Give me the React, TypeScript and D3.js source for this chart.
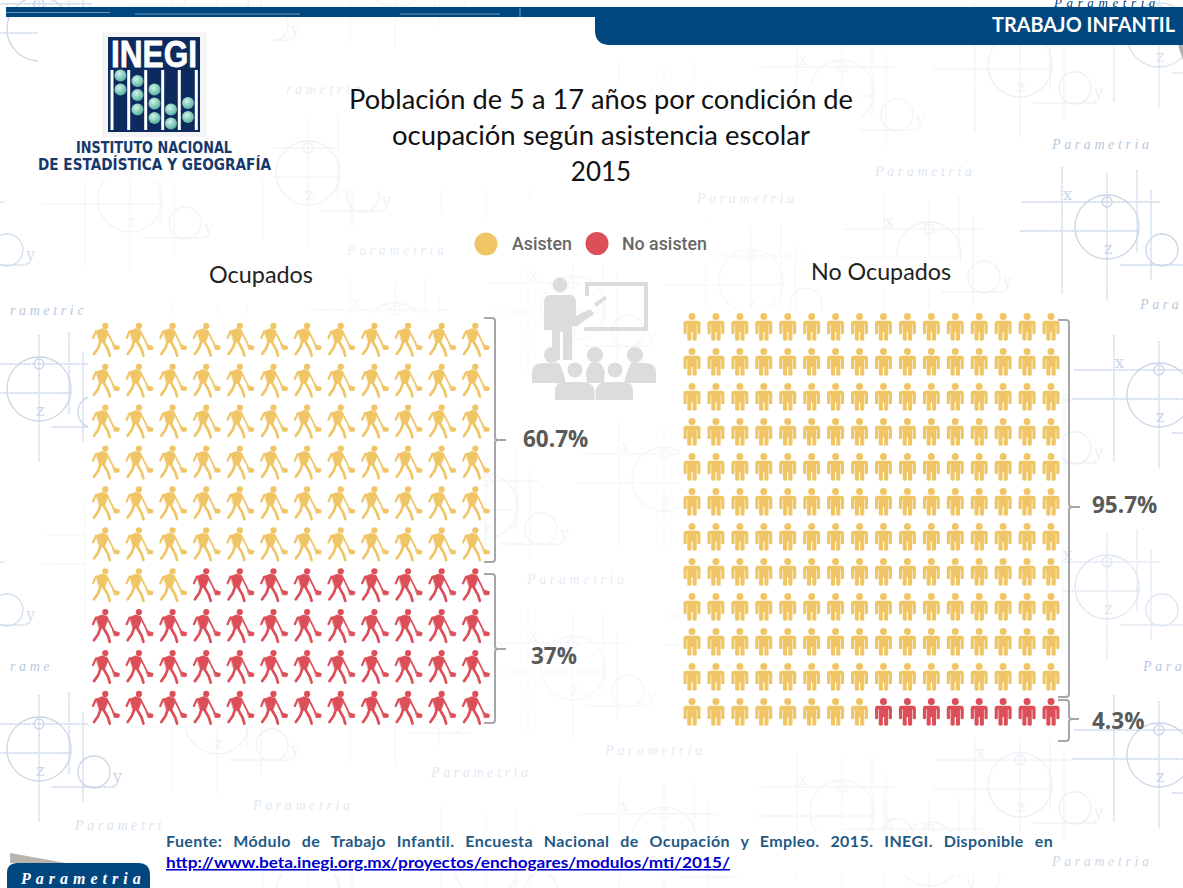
import React from "react";
import * as d3 from "d3";

// ---------- data ----------
const leftSeriesCounts = [75, 45]; // Asisten, No asisten (icons in the Ocupados pictogram)
const rightSeriesCounts = [184, 8]; // Asisten, No asisten (icons in the No Ocupados pictogram)
const leftCols = 12;
const rightCols = 16;
const seriesNames = ["Asisten", "No asisten"];
const seriesColors = ["#f0c566", "#dc4f58"];
const titleLines = ["Población de 5 a 17 años por condición de", "ocupación según asistencia escolar", "2015"];
const percentLabels: [string, number, number][] = [
  ["60.7%", 523, 447], ["37%", 531, 664], ["95.7%", 1092, 513], ["4.3%", 1092, 729],
];
// watermark words: text, x, baseline, strength
const watermarkWords: [string, number, number, number][] = [
  ["rametria", 286, 94, 0.35], ["Parametria", 1052, 149, 1], ["Parametria", 875, 176, 0.45], ["Parametria", 697, 203, 0.35],
  ["Parametria", 347, 255, 0.35], ["rametric", 10, 315, 1], ["Para", 1140, 309, 1], ["Parametria", 527, 584, 0.35],
  ["rame", 10, 671, 1], ["Para", 1143, 671, 1], ["Parametria", 605, 755, 0.35], ["Parametria", 431, 777, 0.4],
  ["Parametria", 253, 810, 0.4], ["Parametri", 75, 830, 0.5], ["Parametria", 1052, 866, 0.7],
];
// watermark graph motifs: centre x, centre y, strength
const watermarkGraphs: [number, number, number][] = [
  [1107, 227, 1], [929, 254, 0.3], [39, 389, 1], [1159, 395, 1], [39, 749, 1], [1159, 755, 1], [39, 29, 1], [1159, 35, 0.7],
  [217, 362, 0.2], [217, 722, 0.3], [395, 335, 0.2], [395, 695, 0.2], [573, 308, 0.2], [573, 668, 0.2],
  [751, 281, 0.2], [751, 641, 0.2], [929, 614, 0.2], [1107, 587, 0.6], [1107, -133, 0.6], [929, 854, 0.25],
  [217, 2, 0.3], [395, -25, 0.2], [1020, 65, 0.35], [842, 92, 0.25], [664, 119, 0.2], [486, 146, 0.2],
  [308, 173, 0.3], [130, 200, 0.25], [-48, 227, 0.8], [1020, 425, 0.35], [842, 452, 0.2], [664, 479, 0.2], [486, 506, 0.25],
  [308, 533, 0.2], [130, 560, 0.2], [-48, 587, 0.8], [1020, 785, 0.35], [842, 812, 0.25], [664, 839, 0.25], [486, 866, 0.25],
  [308, 893, 0.3],
];
const beadGroups: [number, number[]][] = [
  [120.5, [75.5, 89.5]],
  [137.5, [81, 95, 109.5]],
  [154.5, [89.5, 103.5, 118]],
  [171, [109.5, 123.5]],
  [188, [103, 117]],
];
const whitePanels: [number, number, number, number][] = [
  [38, 17, 235, 163],
  [340, 85, 520, 105],
  [470, 225, 245, 38],
  [200, 260, 120, 30],
  [88, 316, 395, 410],
  [680, 310, 382, 428],
  [800, 258, 160, 30],
  [160, 832, 900, 42],
];
const motifLetters: [string, number, number][] = [["x", -44, -27], ["z", -3, 27], ["y", 74, 33]];

// ---------- layout scales ----------
const leftX = d3.scaleLinear().domain([0, leftCols - 1]).range([106, 476]);
const leftY = d3.scaleLinear().domain([0, 9]).range([340, 708]);
const rightX = d3.scaleLinear().domain([0, rightCols - 1]).range([692, 1051]);
const rightY = d3.scaleLinear().domain([0, 11]).range([327, 712]);

const makeCells = (counts: number[], cols: number) =>
  d3.range(d3.sum(counts)).map((i) => ({
    i,
    col: i % cols,
    row: Math.floor(i / cols),
    series: i < counts[0] ? 0 : 1,
  }));

// a motif letter is only drawn when it lies fully on the page and is not under a white panel
const letterVisible = (x: number, y: number) =>
  x >= 1 && x <= 1170 && y >= 30 && y <= 880 &&
  !whitePanels.some(([px, py, pw, ph]) => x + 12 > px && x < px + pw && y > py && y - 14 < py + ph) &&
  !percentLabels.some(([, lx, ly]) => x + 12 > lx && x < lx + 70 && y > ly - 20 && y - 14 < ly);

// ---------- icon pieces ----------
function Worker({ x, y, color }: { x: number; y: number; color: string }) {
  return (
    <g transform={`translate(${x - 14},${y - 17})`} fill={color} stroke={color} strokeLinecap="round" strokeLinejoin="round">
      <circle cx={13.3} cy={2.9} r={3.1} stroke="none" />
      <path d="M4 8 L10 5.6 L14.5 7 L15.5 12 L12.5 19.5 L7.5 19.5 Z" strokeWidth={0.5} />
      <path d="M4 8.3 L1 15" fill="none" strokeWidth={2.2} />
      <path d="M14.5 7.5 L17 12.5 L21.5 21.5" fill="none" strokeWidth={1.7} />
      <path d="M21 21.5 L27.5 23.5 L26.8 26.5 L22.5 26.5 Z" strokeWidth={0.8} />
      <path d="M8.2 19.5 L6.2 25 L2 31" fill="none" strokeWidth={2.7} />
      <path d="M12 19.5 L16 26.5 L17.8 32.6" fill="none" strokeWidth={2.7} />
    </g>
  );
}

function Person({ x, y, color }: { x: number; y: number; color: string }) {
  return (
    <g transform={`translate(${x - 8.5},${y - 14})`} fill={color}>
      <circle cx={8.5} cy={3.4} r={3.5} />
      <path d="M2.6 7.7 H14.4 Q17 7.7 17 10.5 V20.5 Q15.4 21.8 13.8 20.5 V11.5 H13.2 V27 Q11 28.3 9.1 27 V19 H7.9 V27 Q6 28.3 3.8 27 V11.5 H3.2 V20.5 Q1.6 21.8 0 20.5 V10.5 Q0 7.7 2.6 7.7 Z" />
    </g>
  );
}

function Motif({ cx, cy, s }: { cx: number; cy: number; s: number }) {
  const line = "#bccde3";
  return (
    <g transform={`translate(${cx},${cy})`} opacity={s * 0.8}>
      <g fill="none" stroke={line} strokeWidth={1.3}>
        <circle r={32} />
        <circle cx={0} cy={-25} r={5} />
        <circle cx={55} cy={23} r={16} />
        <path
          d="M-45 -60V67M0 -54V73M30 -57V25M44 -37V53M-85 -25H53M-87 4H33M13 38H76"
          strokeDasharray="2 0.6"
        />
      </g>
      <g fill={line} fontFamily="'DejaVu Serif', serif" fontSize={16}>
        {motifLetters
          .filter(([, dx, dy]) => letterVisible(cx + dx, cy + dy))
          .map(([t, dx, dy]) => (
            <text key={t} x={dx} y={dy}>{t}</text>
          ))}
      </g>
    </g>
  );
}

const bracketPath = (x0: number, x1: number, top: number, mid: number, bottom: number, nub: number) => {
  const p = d3.path();
  p.moveTo(x0, top);
  p.lineTo(x1 - 3, top);
  p.quadraticCurveTo(x1, top, x1, top + 3);
  p.lineTo(x1, mid - 3);
  p.quadraticCurveTo(x1, mid, x1 + 3, mid);
  p.lineTo(nub, mid);
  p.moveTo(x1 + 3, mid);
  p.quadraticCurveTo(x1, mid, x1, mid + 3);
  p.lineTo(x1, bottom - 3);
  p.quadraticCurveTo(x1, bottom, x1 - 3, bottom);
  p.lineTo(x0, bottom);
  return p.toString();
};

const lato = "Lato, sans-serif";
const sans = "'Open Sans', sans-serif";

export default function App() {
  const leftCells = makeCells(leftSeriesCounts, leftCols);
  const rightCells = makeCells(rightSeriesCounts, rightCols);

  return (
    <svg width={1183} height={888} style={{ position: "absolute", left: 0, top: 0, display: "block" }}>
      <defs>
        <radialGradient id="bead" cx="40%" cy="35%" r="70%">
          <stop offset="0%" stopColor="#d9f0ea" />
          <stop offset="60%" stopColor="#7fcbb9" />
          <stop offset="100%" stopColor="#5aa89c" />
        </radialGradient>
      </defs>
      <rect width={1183} height={888} fill="#fff" />

      {/* watermark */}
      {watermarkGraphs.map(([x, y, s], i) => (
        <Motif key={i} cx={x} cy={y} s={s} />
      ))}

      {/* white panels */}
      {whitePanels.map(([x, y, w, h], i) => (
        <rect key={i} x={x} y={y} width={w} height={h} fill="#fff" />
      ))}

      <g fill="#b8c9dc" fontFamily="'Liberation Serif', serif" fontStyle="italic" fontSize={14}>
        {watermarkWords.map(([t, x, y, s], i) => (
          <text key={i} x={x} y={y} letterSpacing={3.6} opacity={s}>{t}</text>
        ))}
      </g>

      {/* header */}
      <text x={1054} y={7} fill="#003f73" fontFamily="'Liberation Serif', serif" fontStyle="italic" fontSize={13} letterSpacing={4.6}>
        Parametria
      </text>
      <rect x={6} y={7} width={1177} height={10} fill="#00477f" />
      <g stroke="#9db8cf" strokeWidth={1} opacity={0.7}>
        <path d="M6 12.5H110M135 14H300M400 14H500M520 8V17M785 8V17M755 8V17M650 14H720" fill="none" />
      </g>
      <path d="M1000 45 H1178 L1183 60 V45 Z" fill="#b0b0b0" />
      <path d="M595 7 H1172 Q1183 7 1183 16 V45 H610 Q595 45 595 30 Z" fill="#00477f" />
      <text x={1175} y={32} textAnchor="end" fill="#fff" fontFamily={lato} fontWeight={700} fontSize={20.5} textLength={183} lengthAdjust="spacingAndGlyphs">
        TRABAJO INFANTIL
      </text>

      {/* logo */}
      <rect x={102} y={32} width={105} height={105} fill="#f4f4f4" />
      <rect x={108} y={37} width={92} height={95} fill="#0d2a5e" />
      <text x={154} y={67} textAnchor="middle" fill="#fff" stroke="#fff" strokeWidth={0.8} fontFamily="'Liberation Sans', sans-serif" fontWeight={700} fontSize={37} textLength={86} lengthAdjust="spacingAndGlyphs">
        INEGI
      </text>
      {[112, 128.7, 145.7, 162.7, 179.3, 196.3].map((x) => (
        <rect key={x} x={x - 1.5} y={70} width={3} height={60} fill="#fff" />
      ))}
      {beadGroups.map(([x, ys]) =>
        ys.map((y) => <circle key={`${x}-${y}`} cx={x} cy={y} r={6} fill="url(#bead)" />)
      )}
      <g fill="#17386b" fontFamily="'DejaVu Sans', sans-serif" fontWeight={700} fontSize={15}>
        <text x={76} y={153} textLength={156} lengthAdjust="spacingAndGlyphs">INSTITUTO NACIONAL</text>
        <text x={38} y={170} textLength={233} lengthAdjust="spacingAndGlyphs">DE ESTADÍSTICA Y GEOGRAFÍA</text>
      </g>

      {/* title */}
      <g fill="#111" fontFamily={lato} fontSize={26} textAnchor="middle">
        <text x={601} y={109} textLength={504} lengthAdjust="spacingAndGlyphs">{titleLines[0]}</text>
        <text x={601} y={145} textLength={418} lengthAdjust="spacingAndGlyphs">{titleLines[1]}</text>
        <text x={601} y={181}>{titleLines[2]}</text>
      </g>

      {/* legend */}
      <g fontFamily="Roboto, sans-serif" fontWeight={500} fontSize={17.8} fill="#666">
        <circle cx={486} cy={244} r={11.5} fill={seriesColors[0]} />
        <text x={512} y={250}>{seriesNames[0]}</text>
        <circle cx={597} cy={243.5} r={11.5} fill={seriesColors[1]} />
        <text x={622} y={250}>{seriesNames[1]}</text>
      </g>

      {/* group titles */}
      <g fill="#222" fontFamily={lato} fontSize={23.5}>
        <text x={209} y={283} textLength={104} lengthAdjust="spacingAndGlyphs">Ocupados</text>
        <text x={811} y={280} textLength={140} lengthAdjust="spacingAndGlyphs">No Ocupados</text>
      </g>

      {/* teacher icon */}
      <g fill="#dcdcdc">
        <circle cx={560} cy={285} r={7.5} />
        <path d="M549 295 H571 Q576 296 576 303 V316 L590 309 L594 314 L577 326 H572 V360 H563 V332 H560 V360 H552 V330 H544 V302 Q544 296 549 295 Z" />
        <path d="M594 303 L605 296 L607 299 L596 307 Z" />
        <path d="M585 282 H648 V331 H584 V327 H644 V286 H589 V296 H585 Z" />
        {[552, 595, 635].map((x) => (
          <circle key={x} cx={x} cy={355} r={8} />
        ))}
        <path d="M532 383 V373 Q532 363 543 363 H559 Q563 370 566 383 Z" />
        <path d="M587 383 L586 372 Q588 366 590 363 H600 Q603 366 605 372 L604 383 Z" />
        <path d="M624 383 Q627 370 631 363 H645 Q656 363 656 373 V383 Z" />
        {[575, 615].map((x) => (
          <circle key={x} cx={x} cy={370} r={8} stroke="#fff" strokeWidth={1} />
        ))}
        <path d="M555 400 V391 Q555 382 565 382 H585 Q592 383 594.5 390 V400 Z" />
        <path d="M595.5 400 V390 Q598 383 605 382 H624 Q633 382 633 391 V400 Z" />
      </g>

      {/* pictograms */}
      {leftCells.map((c) => (
        <Worker key={c.i} x={leftX(c.col)} y={leftY(c.row)} color={seriesColors[c.series]} />
      ))}
      {rightCells.map((c) => (
        <Person key={c.i} x={rightX(c.col)} y={rightY(c.row)} color={seriesColors[c.series]} />
      ))}

      {/* brackets */}
      <g fill="none" stroke="#a6a6a6" strokeWidth={2}>
        <path d={bracketPath(484, 495, 318, 440, 562, 506)} />
        <path d={bracketPath(484, 495, 574, 649, 723, 506)} />
        <path d={bracketPath(1058, 1069, 320, 507, 697, 1080)} />
        <path d={bracketPath(1058, 1069, 700, 719, 741, 1079)} />
      </g>
      <g fill="#595959" fontFamily={sans} fontWeight={700} fontSize={22.5}>
        {percentLabels.map(([t, x, y]) => (
          <text key={t} x={x} y={y}>{t}</text>
        ))}
      </g>

      {/* footer */}
      <text x={166} y={847} fill="#1f5a85" fontFamily={lato} fontWeight={700} fontSize={16} letterSpacing={0.4} wordSpacing={6.6}>
        Fuente: Módulo de Trabajo Infantil. Encuesta Nacional de Ocupación y Empleo. 2015. INEGI. Disponible en
      </text>
      <text x={166} y={868} fill="#0000cc" fontFamily={lato} fontWeight={700} fontSize={15.5} textDecoration="underline" textLength={564} lengthAdjust="spacingAndGlyphs">
        http://www.beta.inegi.org.mx/proyectos/enchogares/modulos/mti/2015/
      </text>
      <path d="M10 853 L66 863 H10 Z" fill="#b9b4ac" />
      <path d="M7 888 V873 Q7 863 17 863 H138 Q150 863 150 875 V888 Z" fill="#00477f" />
      <text x={21} y={884} fill="#fff" fontFamily="'Liberation Serif', serif" fontStyle="italic" fontWeight={700} fontSize={16} letterSpacing={5}>
        Parametria
      </text>
    </svg>
  );
}
